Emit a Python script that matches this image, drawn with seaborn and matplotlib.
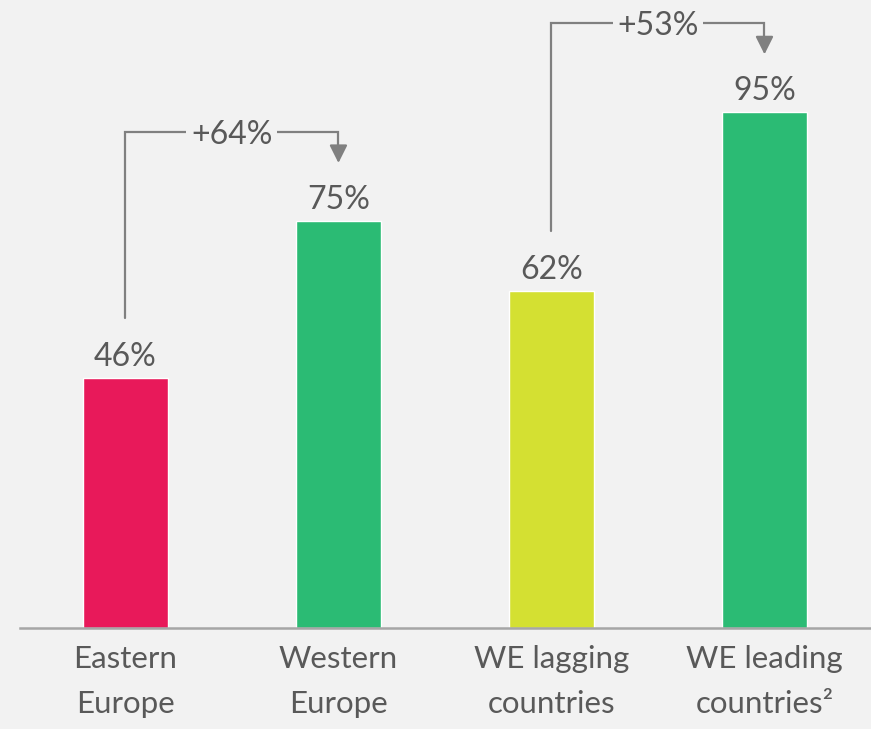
import matplotlib
matplotlib.use("Agg")
import matplotlib.pyplot as plt
import seaborn as sns
import pandas as pd

# ---- data ----
categories = ["Eastern\nEurope", "Western\nEurope", "WE lagging\ncountries", "WE leading\ncountries²"]
values = [46, 75, 62, 95]
bar_colors = ["#e8195a", "#2bbb74", "#d4e032", "#2bbb74"]
value_labels = ["46%", "75%", "62%", "95%"]
change_pairs = [(0, 1), (2, 3)]
change_labels = ["+64%", "+53%"]

BG = "#f2f2f2"
TXT = "#595959"
ARROW = "#808080"

sns.set_theme(style="white")
plt.rcParams["font.family"] = ["Lato", "DejaVu Sans"]

df = pd.DataFrame({"category": categories, "value": values})

fig = plt.figure(figsize=(8.71, 7.29), dpi=100, facecolor=BG)
ax = fig.add_axes([20 / 871, 1 - 628 / 729, 1 - 20 / 871, 628 / 729])
ax.set_facecolor(BG)

sns.barplot(data=df, x="category", y="value", hue="category",
            palette=bar_colors, width=0.4, legend=False, saturation=1, ax=ax)

ax.set_xlim(-0.495, 3.5)
ax.set_ylim(0, 115.6)

for i, (v, lab) in enumerate(zip(values, value_labels)):
    ax.text(i, v + 2.2, lab, ha="center", va="baseline", fontsize=23, color=TXT)

for (a, b), lab in zip(change_pairs, change_labels):
    y_start = values[a] + 11
    y_top = values[b] + 16.3
    y_tip = values[b] + 10.6
    ax.plot([a, a, b, b], [y_start, y_top, y_top, y_tip + 2], color=ARROW, lw=1.6,
            solid_joinstyle="miter", zorder=3)
    ax.annotate("", xy=(b, y_tip), xytext=(b, y_tip + 3),
                arrowprops=dict(arrowstyle="-|>,head_length=0.9,head_width=0.45",
                                color=ARROW, lw=1.6, shrinkA=0, shrinkB=0), zorder=4)
    ax.text((a + b) / 2, y_top, lab, ha="center", va="center_baseline", fontsize=23,
            color=TXT, zorder=5,
            bbox=dict(boxstyle="square,pad=0.15", facecolor=BG, edgecolor="none"))

for s in ["top", "left", "right"]:
    ax.spines[s].set_visible(False)
ax.spines["bottom"].set_color("#a6a6a6")
ax.spines["bottom"].set_linewidth(1.8)
ax.set_yticks([])
ax.set_xlabel("")
ax.set_ylabel("")
ax.tick_params(axis="x", length=0, pad=12.5, labelsize=22.5, colors=TXT)
for t in ax.get_xticklabels():
    t.set_linespacing(1.72)

fig.savefig("out.png", dpi=100, facecolor=BG)
